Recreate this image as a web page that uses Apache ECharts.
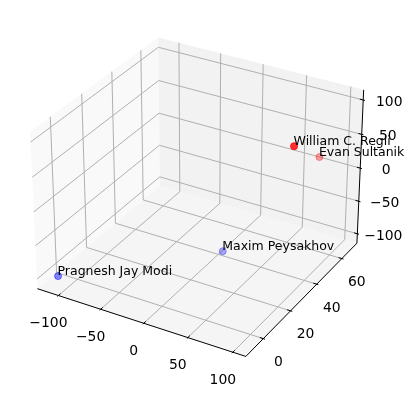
<!DOCTYPE html>
<html>
<head>
<meta charset="utf-8">
<script src="https://cdn.jsdelivr.net/npm/echarts@6/dist/echarts.min.js"></script>
<style>
  html, body { margin: 0; padding: 0; background: #fff; }
  #chart { width: 411px; height: 399px; }
</style>
</head>
<body>
<div id="chart"></div>
<script>
// people placed in 3d space
const names = ["William C. Regli", "Evan Sultanik", "Maxim Peysakhov", "Pragnesh Jay Modi"];
const xs = [99, 75, 10, -110];
const ys = [30, 67, 37, -7];
const zs = [100, 12, -100, -100];
const colors = [[255, 0, 0], [255, 0, 0], [0, 0, 255], [0, 0, 255]];

// tick labels
const xTicks = [-100, -50, 0, 50, 100];
const yTicks = [0, 20, 40, 60];
const zTicks = [-100, -50, 0, 50, 100];

// --- camera, same as a default matplotlib 3d axes (elev 30, azim -60) ---
const elev = 30 * Math.PI / 180, azim = -60 * Math.PI / 180, dist = 10;
const CX = 200, CY = 189.6, S = 2090;
let aspect = [4, 4, 3];
const an = Math.hypot(...aspect);
aspect = aspect.map(a => a * 1.8294640721620434 / an);
const wv = [Math.cos(elev) * Math.cos(azim), Math.cos(elev) * Math.sin(azim), Math.sin(elev)];
let uv = [-wv[1], wv[0], 0];
const un = Math.hypot(uv[0], uv[1]);
uv = uv.map(c => c / un);
const vv = [wv[1] * uv[2] - wv[2] * uv[1], wv[2] * uv[0] - wv[0] * uv[2], wv[0] * uv[1] - wv[1] * uv[0]];

function limits(vals) {
  let lo = Math.min(...vals), hi = Math.max(...vals);
  const m = (hi - lo) * 0.05;
  lo -= m; hi += m;
  const p = (hi - lo) / 48;
  return { lo: lo, hi: hi, plo: lo - p, phi: hi + p, d: (hi - lo) / 12 };
}
const X = limits(xs), Y = limits(ys), Z = limits(zs);

const dot = (a, b) => a[0] * b[0] + a[1] * b[1] + a[2] * b[2];
function project(x, y, z) {
  const p = [
    (x - X.plo) / (X.phi - X.plo) * aspect[0] - aspect[0] / 2,
    (y - Y.plo) / (Y.phi - Y.plo) * aspect[1] - aspect[1] / 2,
    (z - Z.plo) / (Z.phi - Z.plo) * aspect[2] - aspect[2] / 2
  ];
  const depth = dist - dot(wv, p);
  return [CX + S * dot(uv, p) / depth, CY - S * dot(vv, p) / depth, depth];
}
const pr = (x, y, z) => project(x, y, z).slice(0, 2);

// panes
const panes = [
  { color: "#f9f9f9", pts: [pr(X.plo, Y.plo, Z.plo), pr(X.plo, Y.phi, Z.plo), pr(X.plo, Y.phi, Z.phi), pr(X.plo, Y.plo, Z.phi)] },
  { color: "#f2f2f2", pts: [pr(X.plo, Y.phi, Z.plo), pr(X.phi, Y.phi, Z.plo), pr(X.phi, Y.phi, Z.phi), pr(X.plo, Y.phi, Z.phi)] },
  { color: "#f5f5f5", pts: [pr(X.plo, Y.plo, Z.plo), pr(X.phi, Y.plo, Z.plo), pr(X.phi, Y.phi, Z.plo), pr(X.plo, Y.phi, Z.plo)] }
];

// grid lines
const gridLines = [];
xTicks.forEach(t => gridLines.push([pr(t, Y.plo, Z.plo), pr(t, Y.phi, Z.plo), pr(t, Y.phi, Z.phi)]));
yTicks.forEach(t => gridLines.push([pr(X.phi, t, Z.plo), pr(X.plo, t, Z.plo), pr(X.plo, t, Z.phi)]));
zTicks.forEach(t => gridLines.push([pr(X.plo, Y.plo, t), pr(X.plo, Y.phi, t), pr(X.phi, Y.phi, t)]));

// axis lines + tick marks
const axisLines = [
  [pr(X.plo, Y.plo, Z.plo), pr(X.phi, Y.plo, Z.plo)],
  [pr(X.phi, Y.plo, Z.plo), pr(X.phi, Y.phi, Z.plo)],
  [pr(X.phi, Y.phi, Z.plo), pr(X.phi, Y.phi, Z.phi)]
];
xTicks.forEach(t => axisLines.push([pr(t, Y.plo - 0.1 * Y.d, Z.plo), pr(t, Y.plo + 0.2 * Y.d, Z.plo)]));
yTicks.forEach(t => axisLines.push([pr(X.phi + 0.1 * X.d, t, Z.plo), pr(X.phi - 0.2 * X.d, t, Z.plo)]));
zTicks.forEach(t => axisLines.push([pr(X.phi + 0.1 * X.d, Y.phi, t), pr(X.phi - 0.2 * X.d, Y.phi, t)]));

// tick labels
const fmt = v => (v < 0 ? "\u2212" + Math.abs(v) : String(v));
const tickLabels = [];
xTicks.forEach(t => { const p = pr(t, Y.plo, Z.plo); tickLabels.push({ x: p[0] - 10, y: p[1] + 28, text: fmt(t) }); });
yTicks.forEach(t => { const p = pr(X.phi, t, Z.plo); tickLabels.push({ x: p[0] + 15, y: p[1] + 24, text: fmt(t) }); });
zTicks.forEach(t => { const p = pr(X.phi, Y.phi, t); tickLabels.push({ x: p[0] + 26, y: p[1] + 2.5, text: fmt(t) }); });

// points, with depth shading (farther = paler)
const proj = names.map((n, i) => project(xs[i], ys[i], zs[i]));
const dMin = Math.min(...proj.map(p => p[2])), dMax = Math.max(...proj.map(p => p[2]));
const order = names.map((n, i) => i).sort((a, b) => proj[b][2] - proj[a][2]);
const pointData = order.map(i => {
  const a = 1 - 0.6 * (proj[i][2] - dMin) / (dMax - dMin || 1);
  const c = colors[i];
  const rgba = "rgba(" + c[0] + "," + c[1] + "," + c[2] + "," + a.toFixed(3) + ")";
  return {
    name: names[i],
    value: [proj[i][0], proj[i][1]],
    itemStyle: { color: rgba, borderColor: rgba, borderWidth: 1 }
  };
});

const chart = echarts.init(document.getElementById("chart"));
chart.setOption({
  animation: false,
  backgroundColor: "#ffffff",
  grid: { left: 0, right: 0, top: 0, bottom: 0 },
  xAxis: { type: "value", min: 0, max: 411, show: false },
  yAxis: { type: "value", min: 0, max: 399, inverse: true, show: false },
  series: [
    {
      type: "custom", silent: true, z: 1,
      data: panes.map((p, i) => [i]),
      renderItem: (params, api) => {
        const pane = panes[params.dataIndex];
        return { type: "polygon", shape: { points: pane.pts.map(p => api.coord(p)) }, style: { fill: pane.color } };
      }
    },
    {
      type: "custom", silent: true, z: 2,
      data: gridLines.map((g, i) => [i]),
      renderItem: (params, api) => ({
        type: "polyline",
        shape: { points: gridLines[params.dataIndex].map(p => api.coord(p)) },
        style: { stroke: "#b0b0b0", lineWidth: 1, fill: null }
      })
    },
    {
      type: "custom", silent: true, z: 3,
      data: axisLines.map((g, i) => [i]),
      renderItem: (params, api) => ({
        type: "polyline",
        shape: { points: axisLines[params.dataIndex].map(p => api.coord(p)) },
        style: { stroke: "#000000", lineWidth: 1, fill: null }
      })
    },
    {
      type: "custom", silent: true, z: 4,
      data: tickLabels.map((g, i) => [i]),
      renderItem: (params, api) => {
        const t = tickLabels[params.dataIndex];
        const p = api.coord([t.x, t.y]);
        return {
          type: "text", x: p[0], y: p[1],
          style: { text: t.text, fill: "#000", fontSize: 13.9, fontFamily: "DejaVu Sans", align: "center", verticalAlign: "middle" }
        };
      }
    },
    {
      type: "scatter", z: 5,
      symbolSize: 7,
      data: pointData,
      label: {
        show: true, formatter: "{b}", position: [3.5, 6],
        align: "left", verticalAlign: "bottom",
        color: "#000000", opacity: 1, textBorderWidth: 0,
        fontSize: 12.5, fontFamily: "DejaVu Sans"
      }
    }
  ]
});
</script>
</body>
</html>
